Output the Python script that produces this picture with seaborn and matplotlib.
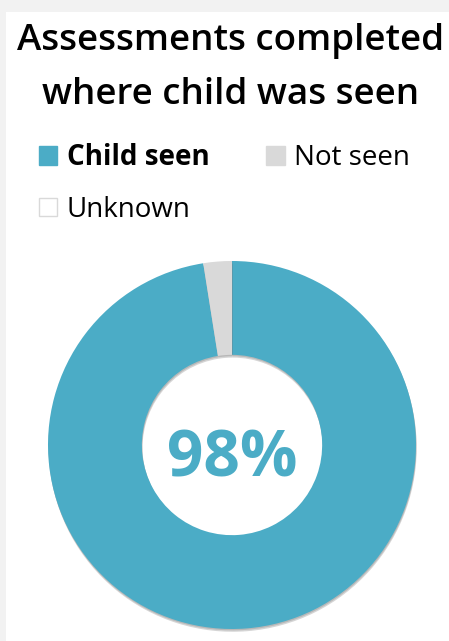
import matplotlib
matplotlib.use("Agg")
import matplotlib.pyplot as plt
import matplotlib.patheffects as pe
from matplotlib.patches import Rectangle, Patch
import seaborn as sns

# data
categories = ["Child seen", "Not seen", "Unknown"]
shares = [97.5, 2.5, 0.0]
center_label = "98%"
title = "Assessments completed\nwhere child was seen"

sns.set_theme(style="white")
plt.rcParams["font.family"] = ["Open Sans", "DejaVu Sans"]
plt.rcParams["text.color"] = "black"

teal = "#4BACC6"
grey = "#D9D9D9"
colors = [teal, grey, "white"]

W, H = 449, 641
fig = plt.figure(figsize=(W / 100, H / 100), dpi=100, facecolor="#F2F2F2")
# white card
fig.patches.append(Rectangle((6 / W, 0), 1, 1 - 12 / H, transform=fig.transFigure,
                             facecolor="white", edgecolor="none", zorder=-5))

fig.text(231 / W, 1 - 68 / H, title, ha="center", va="center", fontsize=26.5,
         fontweight="semibold", color="black", linespacing=1.7)

# donut
ax = fig.add_axes([48 / W, 12 / H, 368 / W, 368 / H])
ax.set_facecolor("none")
wedges, _ = ax.pie(shares, colors=colors, startangle=90, counterclock=False,
                   radius=1, wedgeprops=dict(width=0.51, linewidth=0))
shadow = [pe.SimplePatchShadow(offset=(0.5, -2), shadow_rgbFace="#777777", alpha=0.3),
          pe.SimplePatchShadow(offset=(0.3, -1), shadow_rgbFace="#777777", alpha=0.3),
          pe.Normal()]
for w in wedges[:2]:
    w.set_path_effects(shadow)
    w.set_clip_on(False)
ax.set_xlim(-1.0, 1.0)
ax.set_ylim(-1.0, 1.0)
ax.set_aspect("equal")
ax.axis("off")
ax.text(0, -0.08, center_label, ha="center", va="center", fontsize=46,
        fontweight="bold", color=teal)

# legend
handles = [Patch(facecolor=teal, edgecolor=teal, label="Child seen"),
           Patch(facecolor="white", edgecolor="#D9D9D9", label="Unknown"),
           Patch(facecolor=grey, edgecolor=grey, label="Not seen")]
leg = fig.legend(handles=handles, ncol=2, loc="upper left",
                 bbox_to_anchor=(39 / W, 1 - 143 / H), frameon=False,
                 borderaxespad=0, borderpad=0,
                 fontsize=20, handlelength=0.65, handleheight=0.65,
                 handletextpad=0.35, columnspacing=2.05, labelspacing=0.85)
for t in leg.get_texts():
    t.set_color("black")
leg.get_texts()[0].set_fontweight("bold")

fig.savefig("out.png", dpi=100, facecolor=fig.get_facecolor())
